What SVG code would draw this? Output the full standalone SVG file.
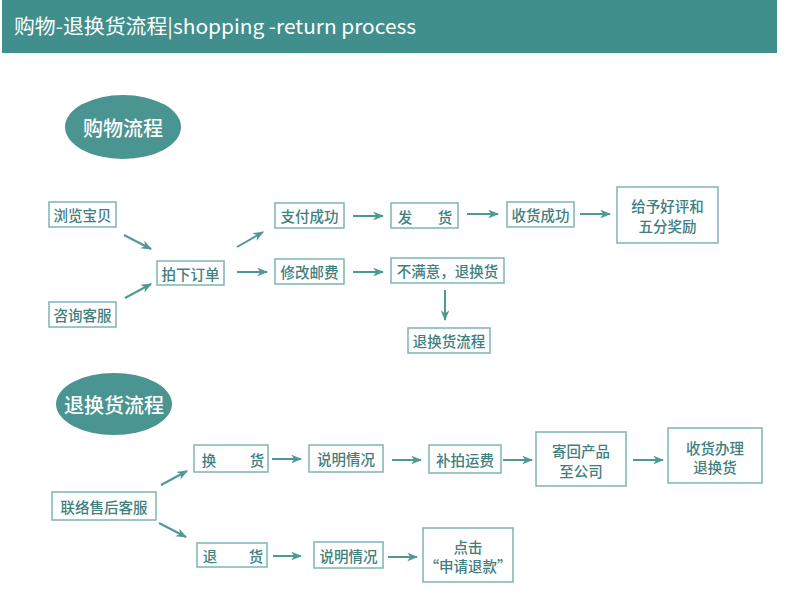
<svg xmlns="http://www.w3.org/2000/svg" width="790" height="598" viewBox="0 0 790 598">
<defs>
<style>
.box{fill:#fff;stroke:#7db4b2;stroke-width:1.5}
.t{font-family:"Noto Sans CJK SC","Noto Sans",sans-serif;font-size:14.5px;font-weight:500;fill:#3f807e;text-anchor:middle;dominant-baseline:central}
.el{fill:#4a9491}
.et{font-family:"Noto Sans CJK SC","Noto Sans",sans-serif;font-size:20px;font-weight:500;fill:#fff;text-anchor:middle;dominant-baseline:central}
.c{stroke:#4e9895;stroke-width:2;fill:none;marker-end:url(#ah)}
</style>
<marker id="ah" viewBox="0 0 10 8" refX="9" refY="4" markerWidth="5.5" markerHeight="4.4" orient="auto" markerUnits="strokeWidth">
<path d="M0,0 L10,4 L0,8 L3,4 z" fill="#4e9895"/>
</marker>
</defs>
<rect x="0" y="0" width="790" height="598" fill="#fff"/>
<g id="header">
<rect x="2" y="0" width="775" height="53" fill="#418f8d"/>
<text x="14" y="34" font-family="'Noto Sans CJK SC','Noto Sans',sans-serif" font-size="20" fill="#fff" textLength="402" lengthAdjust="spacingAndGlyphs">购物-退换货流程|shopping -return process</text>
</g>
<g id="ellipse-shopping"><ellipse class="el" cx="123" cy="127" rx="58" ry="32"/><text class="et" x="123" y="127">购物流程</text></g>
<g id="ellipse-return"><ellipse class="el" cx="114" cy="404" rx="58" ry="31"/><text class="et" x="114" y="404">退换货流程</text></g>

<g id="n-browse"><rect class="box" x="49" y="202" width="67" height="25"/><text class="t" x="82.5" y="214.5">浏览宝贝</text></g>
<g id="n-consult"><rect class="box" x="49" y="302" width="67" height="25"/><text class="t" x="82.5" y="314.5">咨询客服</text></g>
<g id="n-order"><rect class="box" x="157" y="261" width="67" height="24"/><text class="t" x="190.5" y="273">拍下订单</text></g>
<g id="n-pay"><rect class="box" x="275" y="203" width="69" height="25"/><text class="t" x="309.5" y="215.5">支付成功</text></g>
<g id="n-fee"><rect class="box" x="275" y="259" width="69" height="25"/><text class="t" x="309.5" y="271.5">修改邮费</text></g>
<g id="n-ship"><rect class="box" x="391" y="203" width="67" height="25"/><text class="t" y="215.5"><tspan x="405">发</tspan><tspan x="445">货</tspan></text></g>
<g id="n-received"><rect class="box" x="507" y="202" width="67" height="25"/><text class="t" x="540.5" y="214.5">收货成功</text></g>
<g id="n-review"><rect class="box" x="617" y="187" width="101" height="56"/><text class="t" x="667.5" y="205">给予好评和</text><text class="t" x="667.5" y="225">五分奖励</text></g>
<g id="n-unsatisfied"><rect class="box" x="391" y="258" width="113" height="25"/><text class="t" x="447.5" y="270.5">不满意，退换货</text></g>
<g id="n-returnflow"><rect class="box" x="408" y="328" width="82" height="25"/><text class="t" x="449" y="340.5">退换货流程</text></g>

<g id="n-service"><rect class="box" x="52" y="492" width="104" height="28"/><text class="t" x="104" y="506">联络售后客服</text></g>
<g id="n-exchange"><rect class="box" x="194" y="445" width="74" height="27"/><text class="t" y="458.5"><tspan x="209">换</tspan><tspan x="257">货</tspan></text></g>
<g id="n-refund"><rect class="box" x="197" y="543" width="70" height="24"/><text class="t" y="555"><tspan x="210">退</tspan><tspan x="256">货</tspan></text></g>
<g id="n-explain1"><rect class="box" x="309" y="445" width="74" height="27"/><text class="t" x="346" y="458.5">说明情况</text></g>
<g id="n-repay"><rect class="box" x="429" y="445" width="72" height="28"/><text class="t" x="465" y="459">补拍运费</text></g>
<g id="n-sendback"><rect class="box" x="536" y="432" width="90" height="54"/><text class="t" x="581" y="450">寄回产品</text><text class="t" x="581" y="470">至公司</text></g>
<g id="n-handle"><rect class="box" x="668" y="428" width="94" height="55"/><text class="t" x="715" y="447">收货办理</text><text class="t" x="715" y="466">退换货</text></g>
<g id="n-explain2"><rect class="box" x="314" y="542" width="69" height="26"/><text class="t" x="348.5" y="555">说明情况</text></g>
<g id="n-apply"><rect class="box" x="423" y="528" width="90" height="54"/><text class="t" x="468" y="546">点击</text><text class="t" x="468" y="565">“申请退款”</text></g>

<g id="connectors">
<line class="c" x1="124" y1="235" x2="151" y2="249"/>
<line class="c" x1="125" y1="298" x2="151" y2="284"/>
<line class="c" x1="237" y1="247" x2="263" y2="232"/>
<line class="c" x1="237" y1="272" x2="267" y2="272"/>
<line class="c" x1="353" y1="216" x2="383" y2="216"/>
<line class="c" x1="353" y1="272" x2="383" y2="272"/>
<line class="c" x1="467" y1="214" x2="498" y2="214"/>
<line class="c" x1="580" y1="214" x2="610" y2="214"/>
<line class="c" x1="445" y1="290" x2="445" y2="320"/>
<line class="c" x1="161" y1="485" x2="187" y2="471"/>
<line class="c" x1="159" y1="523" x2="186" y2="537"/>
<line class="c" x1="272" y1="459" x2="301" y2="459"/>
<line class="c" x1="273" y1="556" x2="301" y2="556"/>
<line class="c" x1="392" y1="460" x2="421" y2="460"/>
<line class="c" x1="503" y1="460" x2="532" y2="460"/>
<line class="c" x1="633" y1="460" x2="663" y2="460"/>
<line class="c" x1="388" y1="557" x2="417" y2="557"/>
</g>
</svg>
